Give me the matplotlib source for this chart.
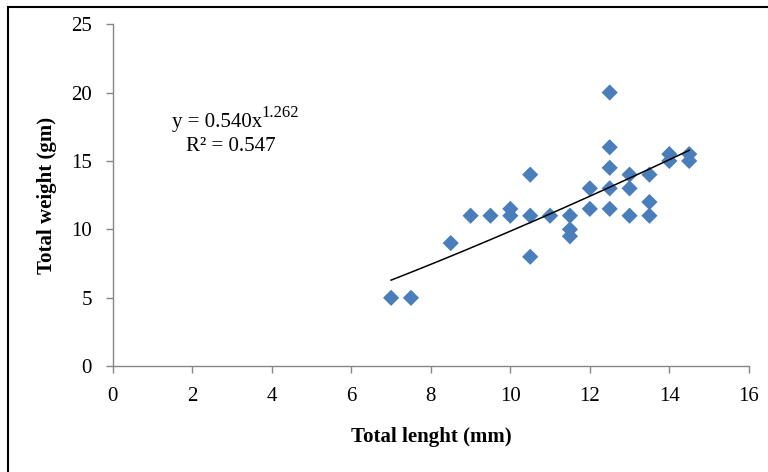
import numpy as np
import matplotlib
matplotlib.use("Agg")
import matplotlib.pyplot as plt
from matplotlib.patches import Rectangle

# data
length_mm = [7, 7.5, 8.5, 9, 9.5, 10, 10, 10.5, 10.5, 10.5, 11,
             11.5, 11.5, 11.5, 12, 12, 12.5, 12.5, 12.5, 12.5, 12.5,
             13, 13, 13, 13.5, 13.5, 13.5, 14, 14, 14.5, 14.5]
weight_gm = [5, 5, 9, 11, 11, 11.5, 11, 14, 11, 8, 11,
             11, 10, 9.5, 13, 11.5, 20, 16, 14.5, 13, 11.5,
             14, 13, 11, 14, 12, 11, 15.5, 15, 15.5, 15]

# power trendline y = a * x^b
coef_a = 0.540
coef_b = 1.262
r_squared = 0.547

x_ticks = [0, 2, 4, 6, 8, 10, 12, 14, 16]
y_ticks = [0, 5, 10, 15, 20, 25]

plt.rcParams["font.family"] = ["Liberation Serif", "DejaVu Serif"]

fig = plt.figure(figsize=(7.68, 4.72), dpi=100)
ax = fig.add_axes([0.147, 0.224, 0.828, 0.725])

ax.scatter(length_mm, weight_gm, marker="D", s=68, color="#4A7EBB",
           edgecolors="none", zorder=3)

xs = np.linspace(min(length_mm), max(length_mm), 100)
ax.plot(xs, coef_a * xs ** coef_b, color="black", lw=1.1, zorder=4)

# equation, with the exponent as its own smaller text
eq = ax.text(1.48, 17.8, "y = %.3fx" % coef_a, ha="left", va="center",
             fontsize=15)
ax.annotate("%.3f" % coef_b, xy=(1, 0.6), xycoords=eq, ha="left",
            va="bottom", fontsize=12)
ax.text(2.97, 16.05, "R² = %.3f" % r_squared, ha="center", va="center",
        fontsize=15)

ax.set_xlim(0, 16)
ax.set_ylim(0, 25)
ax.set_xticks(x_ticks)
ax.set_yticks(y_ticks)
ax.tick_params(labelsize=15, color="#868686", length=5, width=1, pad=10)
for side in ["top", "right"]:
    ax.spines[side].set_visible(False)
for side in ["left", "bottom"]:
    ax.spines[side].set_color("#868686")
    ax.spines[side].set_linewidth(1)

ax.set_xlabel("Total lenght (mm)", fontsize=15, fontweight="bold", labelpad=15)
ax.set_ylabel("Total weight (gm)", fontsize=15, fontweight="bold", labelpad=10)

# outer frame, cut off on the right and bottom like the source image
fig.patches.append(Rectangle((8 / 768, -0.1), 1.1, 1 - 7 / 472 + 0.1,
                             transform=fig.transFigure, fill=False,
                             edgecolor="black", lw=1.5))

fig.savefig("out.png", dpi=100)
